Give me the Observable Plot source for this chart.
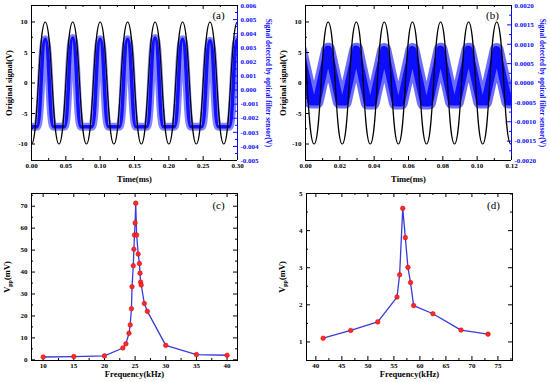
<!DOCTYPE html>
<html><head><meta charset="utf-8">
<script src="https://cdn.jsdelivr.net/npm/d3@7"></script>
<script src="https://cdn.jsdelivr.net/npm/@observablehq/plot@0.6"></script>
<style>
html,body{margin:0;padding:0;background:#fff;}
#fig{position:relative;width:550px;height:382px;overflow:hidden;background:#fff;}
#fig svg{position:absolute;}
</style></head><body><div id="fig"></div>
<script>
// ---------- Panel (a): 25 kHz drive ----------
const aTimeBlack   = [0,0.02,0.04,0.06,0.08,0.10,0.12,0.14,0.16,0.18,0.20,0.22,0.24,0.26,0.28,0.30];
const aSignalBlack = [-10,10,-10,10,-10,10,-10,10,-10,10,-10,10,-10,10,-10,10];
const aTimeBlue    = [0,0.008,0.02,0.032,0.048,0.06,0.072,0.088,0.10,0.112,0.128,0.14,0.152,0.168,0.18,0.192,0.208,0.22,0.232,0.248,0.26,0.272,0.288,0.30];
const aSensorBlue  = [-0.0026,-0.0026,0.0036,-0.0026,-0.0026,0.0037,-0.0026,-0.0026,0.0036,-0.0026,-0.0026,0.0036,-0.0026,-0.0026,0.0037,-0.0026,-0.0026,0.0036,-0.0026,-0.0026,0.0035,-0.0026,-0.0026,0.0036];
const aXTicks = [0,0.05,0.10,0.15,0.20,0.25,0.30];
const aXMinor = [0.025,0.075,0.125,0.175,0.225,0.275];
const aYTicks = [-10,-5,0,5,10];
const aYMinor = [-7.5,-2.5,2.5,7.5];
const aRTicks = [-0.005,-0.004,-0.003,-0.002,-0.001,0,0.001,0.002,0.003,0.004,0.005,0.006];
const aRMinor = [-0.0045,-0.0035,-0.0025,-0.0015,-0.0005,0.0005,0.0015,0.0025,0.0035,0.0045,0.0055];

// ---------- Panel (b): ~61 kHz drive ----------
const bTimeBlack   = [-0.0032,0.0050,0.0132,0.0214,0.0296,0.0377,0.0459,0.0541,0.0623,0.0705,0.0787,0.0868,0.0950,0.1032,0.1114,0.1196,0.1278];
const bSignalBlack = [10,-10,10,-10,10,-10,10,-10,10,-10,10,-10,10,-10,10,-10,10];
const bTimeBlue    = [-0.0032,0.0035,0.0065,0.0132,0.0199,0.0229,0.0296,0.0362,0.0392,0.0459,0.0526,0.0556,0.0623,0.0690,0.0720,0.0787,0.0853,0.0883,0.0950,0.1017,0.1047,0.1114,0.1181,0.1211,0.1278];
const bSensorBlue  = [0.00085,-0.00048,-0.00048,0.00086,-0.00048,-0.00048,0.00086,-0.00050,-0.00050,0.00085,-0.00050,-0.00050,0.00085,-0.00050,-0.00050,0.00086,-0.00048,-0.00048,0.00086,-0.00048,-0.00048,0.00085,-0.00048,-0.00048,0.00085];
const bXTicks = [0,0.02,0.04,0.06,0.08,0.10,0.12];
const bXMinor = [0.01,0.03,0.05,0.07,0.09,0.11];
const bRTicks = [-0.002,-0.0015,-0.001,-0.0005,0,0.0005,0.001,0.0015,0.002];
const bRMinor = [-0.00175,-0.00125,-0.00075,-0.00025,0.00025,0.00075,0.00125,0.00175];

// ---------- Panel (c): resonance near 25 kHz ----------
const cFreq = [10,15,20,23,23.5,24,24.2,24.4,24.5,24.7,24.8,24.9,25,25.1,25.25,25.5,25.7,25.8,25.9,26,26.5,27,30,35,40];
const cVpp  = [1.3,1.5,1.8,5.4,7.3,12.1,15.9,23.3,33.3,42.9,50.4,56.9,62.4,71.4,56.9,48.2,43.9,39.5,35.4,34.1,25.7,22.1,6.6,2.4,2.1];
const cXTicks = [10,15,20,25,30,35,40];
const cXMinor = [12.5,17.5,22.5,27.5,32.5,37.5];
const cYTicks = [0,10,20,30,40,50,60,70];
const cYMinor = [5,15,25,35,45,55,65,75];

// ---------- Panel (d): resonance near 57 kHz ----------
const dFreq = [41.4,46.7,51.9,55.6,56.1,56.7,57.2,57.7,58.2,58.8,62.5,67.9,73.1];
const dVpp  = [1.10,1.31,1.54,2.21,2.81,4.60,3.81,3.01,2.60,1.98,1.76,1.32,1.21];
const dXTicks = [40,45,50,55,60,65,70,75];
const dXMinor = [42.5,47.5,52.5,57.5,62.5,67.5,72.5,77.5];
const dYTicks = [1,2,3,4,5];
const dYMinor = [1.5,2.5,3.5,4.5];

// ---------- helpers ----------
const FONT = "'Liberation Serif','Times New Roman',serif";
const BLUE = "#0a0aff";
const LINEBLUE = "#3a3ad8";
const fig = document.getElementById("fig");
const W = 275, ML = 31, MR = 38, IW = W - ML - MR;

function place(svg, left, top) {
  svg.style.left = left + "px";
  svg.style.top = top + "px";
  fig.appendChild(svg);
}
function baseStyle() {
  return {background: "transparent", fontFamily: FONT, fontSize: "7px", fontWeight: "bold", overflow: "visible", color: "black"};
}
function inwardTicks(ih, xMaj, xMin, yMaj, yMin, {right = true, stroke = "black"} = {}) {
  const m = [
    Plot.tickX(xMaj, {x: d => d, insetTop: ih - 4, stroke}),
    Plot.tickX(xMin, {x: d => d, insetTop: ih - 2, stroke}),
    Plot.tickX(xMaj, {x: d => d, insetBottom: ih - 4, stroke}),
    Plot.tickX(xMin, {x: d => d, insetBottom: ih - 2, stroke}),
    Plot.tickY(yMaj, {y: d => d, insetRight: IW - 4, stroke}),
    Plot.tickY(yMin, {y: d => d, insetRight: IW - 2, stroke})
  ];
  if (right) {
    m.push(Plot.tickY(yMaj, {y: d => d, insetLeft: IW - 4, stroke}));
    m.push(Plot.tickY(yMin, {y: d => d, insetLeft: IW - 2, stroke}));
  }
  return m;
}
function title(text, opts) {
  return Plot.text([text], {text: d => d, textAnchor: "middle", lineAnchor: "middle", fontWeight: "bold", ...opts});
}

// ---------- oscilloscope panels (a), (b) ----------
function scopePanel({left, xDomain, xTicks, xMinor, xFmt, tBlack, vBlack, tBlue, vBlue, rDomain, rTicks, rMinor, rFmt, tag, fuzz, fuzzOpacity, core, blueCurve}) {
  const H = 190, MT = 5, MB = 30, IH = H - MT - MB;
  const yDomain = [-12.7, 12.7];
  const blueData = tBlue.map((t, i) => ({t, v: vBlue[i]}));
  const blue = Plot.plot({
    width: W, height: H, marginLeft: ML, marginRight: MR, marginTop: MT, marginBottom: MB,
    x: {domain: xDomain, axis: null},
    y: {domain: rDomain, axis: null},
    style: baseStyle(),
    marks: [
      Plot.line(blueData, {x: "t", y: "v", curve: blueCurve, stroke: BLUE, strokeWidth: fuzz, strokeOpacity: fuzzOpacity, strokeLinejoin: "round", clip: true}),
      Plot.line(blueData, {x: "t", y: "v", curve: blueCurve, stroke: BLUE, strokeWidth: core, strokeOpacity: 0.95, strokeLinejoin: "round", clip: true}),
      Plot.ruleX([xDomain[1]], {stroke: BLUE, strokeWidth: 1}),
      Plot.tickY(rTicks, {y: d => d, insetLeft: IW - 4, stroke: BLUE}),
      Plot.tickY(rMinor, {y: d => d, insetLeft: IW - 2, stroke: BLUE}),
      Plot.axisY({anchor: "right", ticks: rTicks, tickSize: 0, tickPadding: 3, tickFormat: rFmt, label: null, fill: BLUE, color: BLUE}),
      title("Signal detected by optical filter sensor(V)", {frameAnchor: "right", dx: 31, rotate: 90, fontSize: 7.3, fill: BLUE})
    ]
  });
  place(blue, left, 0);
  const black = Plot.plot({
    width: W, height: H, marginLeft: ML, marginRight: MR, marginTop: MT, marginBottom: MB,
    x: {domain: xDomain, label: null},
    y: {domain: yDomain, label: null},
    style: baseStyle(),
    marks: [
      Plot.line(tBlack.map((t, i) => ({t, v: vBlack[i]})), {x: "t", y: "v", curve: "bump-x", stroke: "black", strokeWidth: 1.2, clip: true}),
      Plot.ruleX([xDomain[0]], {stroke: "black"}),
      Plot.ruleY([yDomain[0], yDomain[1]], {stroke: "black"}),
      ...inwardTicks(IH, xTicks, xMinor, aYTicks, aYMinor, {right: false}),
      Plot.axisX({anchor: "bottom", ticks: xTicks, tickSize: 0, tickPadding: 3, tickFormat: xFmt, label: null}),
      Plot.axisY({anchor: "left", ticks: aYTicks, tickSize: 0, tickPadding: 4, tickFormat: d => String(d), label: null}),
      title("Original signal(V)", {frameAnchor: "left", dx: -22, rotate: -90, fontSize: 8.5}),
      title("Time(ms)", {frameAnchor: "bottom", dy: 19, fontSize: 8.5}),
      Plot.text([tag], {text: d => d, frameAnchor: "top-right", dx: -19, dy: 10, fontSize: 11, fontWeight: "normal", textAnchor: "middle", lineAnchor: "middle"})
    ]
  });
  place(black, left, 0);
}

scopePanel({left: 0, xDomain: [0, 0.30], xTicks: aXTicks, xMinor: aXMinor, xFmt: d => d.toFixed(2),
  tBlack: aTimeBlack, vBlack: aSignalBlack, tBlue: aTimeBlue, vBlue: aSensorBlue,
  rDomain: [-0.005, 0.006], rTicks: aRTicks, rMinor: aRMinor, rFmt: d => d.toFixed(3), tag: "(a)",
  fuzz: 8, fuzzOpacity: 0.5, core: 3.5, blueCurve: "bump-x"});
scopePanel({left: 274, xDomain: [0, 0.12], xTicks: bXTicks, xMinor: bXMinor, xFmt: d => d.toFixed(2),
  tBlack: bTimeBlack, vBlack: bSignalBlack, tBlue: bTimeBlue, vBlue: bSensorBlue,
  rDomain: [-0.002, 0.002], rTicks: bRTicks, rMinor: bRMinor, rFmt: d => d.toFixed(4), tag: "(b)",
  fuzz: 14, fuzzOpacity: 0.6, core: 8, blueCurve: "linear"});

// ---------- frequency response panels (c), (d) ----------
function respPanel({left, xDomain, yDomain, xTicks, xMinor, yTicks, yMinor, freq, vpp, tag}) {
  const H = 192, MT = 3, MB = 22, IH = H - MT - MB;
  const data = freq.map((f, i) => ({f, v: vpp[i]}));
  const svg = Plot.plot({
    width: W, height: H, marginLeft: ML, marginRight: MR, marginTop: MT, marginBottom: MB,
    x: {domain: xDomain, label: null},
    y: {domain: yDomain, label: null},
    style: baseStyle(),
    marks: [
      Plot.frame({stroke: "black"}),
      ...inwardTicks(IH, xTicks, xMinor, yTicks, yMinor),
      Plot.axisX({anchor: "bottom", ticks: xTicks, tickSize: 0, tickPadding: 3, tickFormat: d => String(d), label: null}),
      Plot.axisY({anchor: "left", ticks: yTicks, tickSize: 0, tickPadding: 4, tickFormat: d => String(d), label: null}),
      Plot.line(data, {x: "f", y: "v", stroke: LINEBLUE, strokeWidth: 1.3}),
      Plot.dot(data, {x: "f", y: "v", r: 2.3, fill: "#ff2a2a", stroke: "#d40000", strokeWidth: 0.5}),
      title("Vpp(mV)", {frameAnchor: "left", dx: -24, rotate: -90, fontSize: 8.5}),
      title("Frequency(kHz)", {frameAnchor: "bottom", dy: 14, fontSize: 8.5}),
      Plot.text([tag], {text: d => d, frameAnchor: "top-right", dx: -19, dy: 12, fontSize: 11, fontWeight: "normal", textAnchor: "middle", lineAnchor: "middle"})
    ]
  });
  d3.select(svg).selectAll("text").filter(function() { return this.textContent === "Vpp(mV)"; }).each(function() {
    const t = d3.select(this);
    t.text("");
    t.append("tspan").text("V");
    t.append("tspan").attr("dy", 2).attr("font-size", 6).text("pp");
    t.append("tspan").attr("dy", -2).text("(mV)");
  });
  place(svg, left, 190);
}

respPanel({left: 0, xDomain: [8.1, 41.7], yDomain: [-0.3, 75.8], xTicks: cXTicks, xMinor: cXMinor, yTicks: cYTicks, yMinor: cYMinor, freq: cFreq, vpp: cVpp, tag: "(c)"});
respPanel({left: 275, xDomain: [38.2, 77.8], yDomain: [0.5, 5], xTicks: dXTicks, xMinor: dXMinor, yTicks: dYTicks, yMinor: dYMinor, freq: dFreq, vpp: dVpp, tag: "(d)"});
</script></body></html>
